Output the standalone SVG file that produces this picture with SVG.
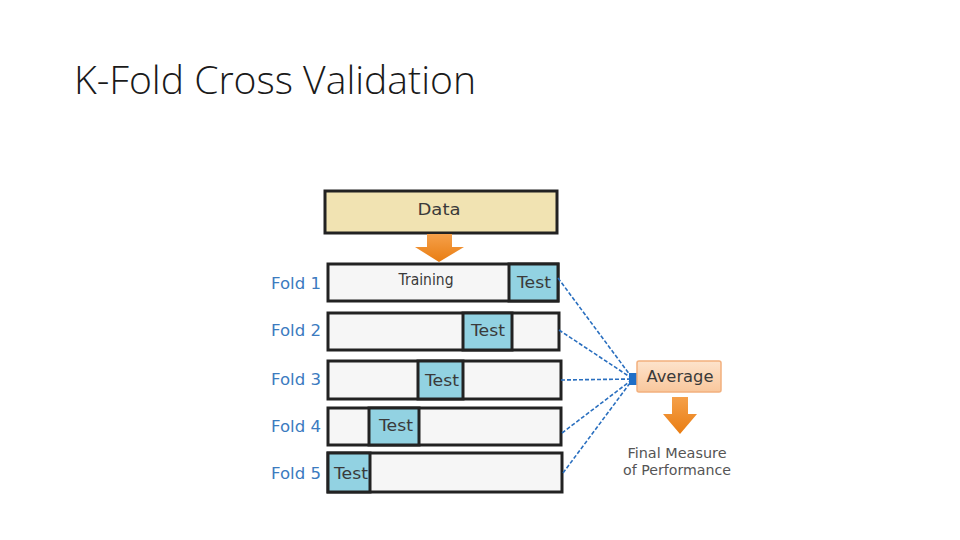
<svg xmlns="http://www.w3.org/2000/svg" width="960" height="540" viewBox="0 0 960 540">
<defs>
<linearGradient id="og" x1="0" y1="0" x2="0" y2="1"><stop offset="0" stop-color="#f5a04a"/><stop offset="1" stop-color="#e97d12"/></linearGradient>
<linearGradient id="ag" x1="0" y1="0" x2="0" y2="1"><stop offset="0" stop-color="#fde3cc"/><stop offset="1" stop-color="#f9c79c"/></linearGradient>
<style>
.title{font-family:"Open Sans","Liberation Sans",sans-serif;font-weight:300;font-size:38px;fill:#1a1a1a}
.box{stroke:#222;stroke-width:3}
.train{fill:#f6f6f6}
.test{fill:#92d2e2}
.lbl{font-family:"DejaVu Sans","Liberation Sans",sans-serif;font-size:15px;fill:#3c7bbf}
.t{font-family:"DejaVu Sans","Liberation Sans",sans-serif;font-size:16px;fill:#3a3a3a;text-anchor:middle}
.small{font-family:"DejaVu Sans","Liberation Sans",sans-serif;font-size:13.5px;fill:#555;text-anchor:middle}
.dash{stroke:#2a6fbf;stroke-width:1.6;stroke-dasharray:4 2;fill:none}
.arrow{fill:url(#og)}
</style>
</defs>
<text class="title" x="74" y="94" textLength="402" lengthAdjust="spacingAndGlyphs">K-Fold Cross Validation</text>

<g id="data">
<rect class="box" x="325" y="191" width="232" height="42" fill="#f1e3b2"/>
<text class="t" x="439" y="215" textLength="43" lengthAdjust="spacingAndGlyphs">Data</text>
</g>
<g id="arrow-data">
<polygon class="arrow" points="427,234 452,234 452,247 464,247 439,262 415,247 427,247"/>
</g>

<g id="fold1">
<text class="lbl" x="271" y="289" textLength="50" lengthAdjust="spacingAndGlyphs">Fold 1</text>
<rect class="box train" x="328" y="264" width="230" height="37"/>
<rect class="box test" x="509" y="264" width="49" height="37"/>
<text class="t" x="426" y="285" font-size="13" fill="#555" textLength="55" lengthAdjust="spacingAndGlyphs">Training</text>
<text class="t" x="534" y="288" textLength="34" lengthAdjust="spacingAndGlyphs">Test</text>
</g>
<g id="fold2">
<text class="lbl" x="271" y="336" textLength="50" lengthAdjust="spacingAndGlyphs">Fold 2</text>
<rect class="box train" x="328" y="313" width="231" height="37"/>
<rect class="box test" x="463" y="313" width="49" height="37"/>
<text class="t" x="488" y="336" textLength="34" lengthAdjust="spacingAndGlyphs">Test</text>
</g>
<g id="fold3">
<text class="lbl" x="271" y="385" textLength="50" lengthAdjust="spacingAndGlyphs">Fold 3</text>
<rect class="box train" x="328" y="361" width="233" height="38"/>
<rect class="box test" x="418" y="361" width="45" height="38"/>
<text class="t" x="442" y="386" textLength="34" lengthAdjust="spacingAndGlyphs">Test</text>
</g>
<g id="fold4">
<text class="lbl" x="271" y="432" textLength="50" lengthAdjust="spacingAndGlyphs">Fold 4</text>
<rect class="box train" x="328" y="408" width="233" height="37"/>
<rect class="box test" x="369" y="408" width="50" height="37"/>
<text class="t" x="396" y="431" textLength="34" lengthAdjust="spacingAndGlyphs">Test</text>
</g>
<g id="fold5">
<text class="lbl" x="271" y="479" textLength="50" lengthAdjust="spacingAndGlyphs">Fold 5</text>
<rect class="box train" x="328" y="453" width="234" height="39"/>
<rect class="box test" x="328" y="453" width="42" height="39"/>
<text class="t" x="351" y="479" textLength="34" lengthAdjust="spacingAndGlyphs">Test</text>
</g>

<g id="connectors">
<line class="dash" x1="558" y1="278" x2="633" y2="379"/>
<line class="dash" x1="559" y1="330" x2="633" y2="379"/>
<line class="dash" x1="561" y1="380" x2="633" y2="379"/>
<line class="dash" x1="562" y1="433" x2="633" y2="379"/>
<line class="dash" x1="563" y1="473" x2="633" y2="379"/>
<rect x="629" y="373" width="8" height="12" fill="#1f6fc8"/>
</g>

<g id="average">
<rect x="637" y="361" width="84" height="31" rx="2" fill="url(#ag)" stroke="#f2b07e" stroke-width="1.5"/>
<text class="t" x="680" y="382" fill="#444" textLength="67" lengthAdjust="spacingAndGlyphs">Average</text>
</g>
<g id="arrow-avg">
<polygon class="arrow" points="672,397 688,397 688,414 697,414 680,434 663,414 672,414"/>
</g>
<g id="final">
<text class="small" x="677" y="458" textLength="99" lengthAdjust="spacingAndGlyphs">Final Measure</text>
<text class="small" x="677" y="475" textLength="108" lengthAdjust="spacingAndGlyphs">of Performance</text>
</g>
</svg>
